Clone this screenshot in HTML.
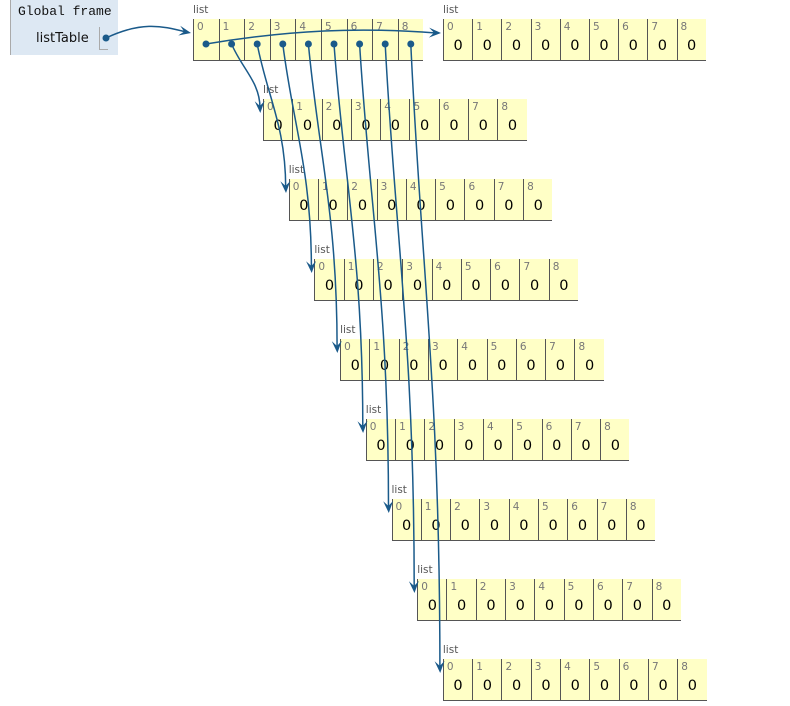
<!DOCTYPE html>
<html><head><meta charset="utf-8">
<style>
body{margin:0;width:790px;height:706px;background:#fff;position:relative;overflow:hidden;font-family:"DejaVu Sans","Liberation Sans",sans-serif;}
.gf{position:absolute;left:10px;top:0;width:107px;height:55px;background:#dde8f3;border-left:1px solid #aaa;}
.gft{position:absolute;left:18px;top:4px;font-family:"Liberation Mono",monospace;font-size:13px;color:#111;}
.var{position:absolute;left:36px;top:31px;font-size:13px;color:#111;}
.vbox{position:absolute;left:99px;top:27px;width:8px;height:22px;border-left:1px solid #aaa;border-bottom:1px solid #aaa;}
.lbl{position:absolute;font-size:10.5px;color:#555;}
.lst{position:absolute;height:42px;display:flex;}
.c{position:relative;height:41px;background:#ffffc6;border-left:1px solid #555;border-bottom:1px solid #555;box-sizing:content-box;}
.c .i{position:absolute;left:3px;top:2px;font-size:10.5px;color:#777;}
.c .v{position:absolute;left:0;right:0;top:19px;text-align:center;font-size:14.5px;color:#000;}
svg{position:absolute;left:0;top:0;}
</style></head><body>
<div class="gf"></div>
<div class="gft">Global frame</div>
<div class="var">listTable</div>
<div class="vbox"></div>
<div id="root"></div>
<svg id="s" width="790" height="706"></svg>
<script>
var root=document.getElementById('root');
function list(x,y,w,vals){
  var l=document.createElement('div');l.className='lbl';l.style.left=x+'px';l.style.top=(y-15)+'px';l.textContent='list';root.appendChild(l);
  var d=document.createElement('div');d.className='lst';d.style.left=x+'px';d.style.top=y+'px';
  for(var i=0;i<9;i++){var c=document.createElement('div');c.className='c';c.style.width=(w-1)+'px';
    c.innerHTML='<span class="i">'+i+'</span>'+(vals?'<span class="v">0</span>':'');d.appendChild(c);}
  root.appendChild(d);
}
list(193,19,25.6,false);
list(443,19,29.2,true);
var rows=[];
for(var k=0;k<8;k++){var x=263+25.7*k,y=99+80*k;rows.push([x,y]);list(x,y,29.3,true);}
var s='';var col='#1a5a8a';
function arrow(tx,ty,ang){
  var a=ang,l=12,w=5;
  var bx=tx-l*Math.cos(a),by=ty-l*Math.sin(a);
  var px=-Math.sin(a)*w,py=Math.cos(a)*w;
  return '<polygon points="'+tx+','+ty+' '+(bx+px)+','+(by+py)+' '+(tx-7*Math.cos(a))+','+(ty-7*Math.sin(a))+' '+(bx-px)+','+(by-py)+'" fill="'+col+'"/>';
}
s+='<circle cx="106" cy="38" r="3.5" fill="'+col+'"/>';
s+='<path d="M106,38 C140,22 160,25 186,32" fill="none" stroke="'+col+'" stroke-width="1.5"/>'+arrow(191,33,0.2);
for(var i=0;i<9;i++){
  var x0=206+25.6*i,y0=44;
  s+='<circle cx="'+x0+'" cy="'+y0+'" r="3.5" fill="'+col+'"/>';
  if(i==0){
    s+='<path d="M'+x0+',44 C290,30 360,27 436,33" fill="none" stroke="'+col+'" stroke-width="1.5"/>'+arrow(441,33,0.03);
  }else{
    var r=rows[i-1],tx=r[0]-3,ty=r[1]+14;
    var dy=ty-y0;
    s+='<path d="M'+x0+','+y0+' C'+(x0+10)+','+(y0+dy*0.35)+' '+(tx)+','+(ty-dy*0.45)+' '+tx+','+(ty-5)+'" fill="none" stroke="'+col+'" stroke-width="1.5"/>'+arrow(tx+0.3,ty,1.52);
  }
}
document.getElementById('s').innerHTML=s;
</script>
</body></html>
